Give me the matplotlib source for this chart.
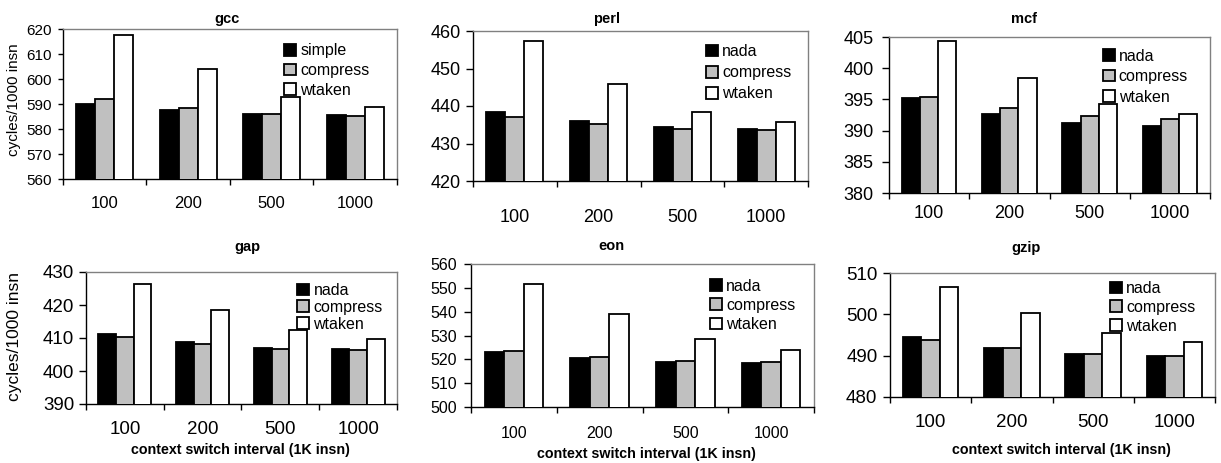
import numpy as np
import matplotlib
matplotlib.use("Agg")
import matplotlib.pyplot as plt
from matplotlib.ticker import FixedLocator, NullFormatter

plt.rcParams['font.family'] = ['Liberation Sans', 'DejaVu Sans']

intervals = ['100', '200', '500', '1000']

gcc_simple = [590.1, 587.7, 586.0, 585.6]
gcc_compress = [592.0, 588.4, 586.0, 585.3]
gcc_wtaken = [617.6, 603.9, 592.8, 588.7]

perl_nada = [438.4, 436.0, 434.5, 433.9]
perl_compress = [437.2, 435.1, 434.0, 433.6]
perl_wtaken = [457.4, 446.0, 438.4, 435.7]

mcf_nada = [395.2, 392.7, 391.2, 390.7]
mcf_compress = [395.4, 393.6, 392.3, 391.8]
mcf_wtaken = [404.4, 398.4, 394.2, 392.6]

gap_nada = [411.3, 408.7, 407.1, 406.8]
gap_compress = [410.2, 408.1, 406.8, 406.5]
gap_wtaken = [426.5, 418.5, 412.3, 409.7]

eon_nada = [523.0, 520.6, 519.0, 518.6]
eon_compress = [523.3, 520.9, 519.3, 518.9]
eon_wtaken = [551.7, 539.0, 528.6, 523.8]

gzip_nada = [494.4, 491.9, 490.3, 489.8]
gzip_compress = [493.8, 491.8, 490.4, 489.9]
gzip_wtaken = [506.7, 500.4, 495.4, 493.2]

W, H = 1221, 463
fig = plt.figure(figsize=(W / 100, H / 100), dpi=100)


def px_rect(x0, y_bottom, w, h):
    return [x0 / W, 1 - y_bottom / H, w / W, h / H]


panels = [
    dict(name='gcc', rect=px_rect(63, 179, 334, 150),
         data=[gcc_simple, gcc_compress, gcc_wtaken],
         labels=['simple', 'compress', 'wtaken'],
         ylim=(560, 620), step=10, fs=11, xfs=12, xpad=12, ytl=3.6, ypad=4.5,
         tx=0.49, tpad=4, leg=(0.663, 0.905), ls=0.3),
    dict(name='perl', rect=px_rect(473, 181, 335, 150),
         data=[perl_nada, perl_compress, perl_wtaken],
         labels=['nada', 'compress', 'wtaken'],
         ylim=(420, 460), step=10, fs=13, xfs=13, xpad=20, ytl=5, ypad=3.5,
         tx=0.40, tpad=6, leg=(0.696, 0.912), ls=0.38),
    dict(name='mcf', rect=px_rect(889, 193, 321, 156),
         data=[mcf_nada, mcf_compress, mcf_wtaken],
         labels=['nada', 'compress', 'wtaken'],
         ylim=(380, 405), step=5, fs=13, xfs=13, xpad=9, ytl=5, ypad=6,
         tx=0.42, tpad=10, leg=(0.666, 0.926), ls=0.35),
    dict(name='gap', rect=px_rect(86, 404, 311, 132),
         data=[gap_nada, gap_compress, gap_wtaken],
         labels=['nada', 'compress', 'wtaken'],
         ylim=(390, 430), step=10, fs=13.5, xfs=13.5, xpad=12, ytl=5, ypad=3.5,
         tx=0.52, tpad=15, leg=(0.68, 0.917), ls=0.12),
    dict(name='eon', rect=px_rect(471, 407, 343, 143),
         data=[eon_nada, eon_compress, eon_wtaken],
         labels=['nada', 'compress', 'wtaken'],
         ylim=(500, 560), step=10, fs=11.5, xfs=11.5, xpad=14, ytl=5, ypad=5,
         tx=0.41, tpad=10, leg=(0.697, 0.897), ls=0.26),
    dict(name='gzip', rect=px_rect(890, 397, 325, 124),
         data=[gzip_nada, gzip_compress, gzip_wtaken],
         labels=['nada', 'compress', 'wtaken'],
         ylim=(480, 510), step=10, fs=13.5, xfs=13.5, xpad=12, ytl=5, ypad=4,
         tx=0.42, tpad=15, leg=(0.677, 0.935), ls=0.24),
]

colors = ['black', '#c0c0c0', 'white']
x = np.arange(len(intervals))
bw = 0.227

axes = []
for p in panels:
    ax = fig.add_axes(p['rect'])
    axes.append(ax)
    for i, (vals, lab) in enumerate(zip(p['data'], p['labels'])):
        ax.bar(x + (i - 1) * bw, vals, bw, color=colors[i], edgecolor='black',
               linewidth=1.3, label=lab, zorder=3)
    ax.set_xlim(-0.5, len(intervals) - 0.5)
    ax.set_ylim(*p['ylim'])
    ax.set_yticks(np.arange(p['ylim'][0], p['ylim'][1] + 0.1, p['step']))
    ax.set_xticks(x)
    ax.set_xticklabels(intervals)
    ax.xaxis.set_minor_locator(FixedLocator(np.arange(-0.5, len(intervals), 1.0)))
    ax.xaxis.set_minor_formatter(NullFormatter())
    ax.tick_params(axis='x', which='major', length=0, pad=p['xpad'], labelsize=p['xfs'])
    ax.tick_params(axis='x', which='minor', length=4.5, width=1, direction='out')
    ax.tick_params(axis='y', length=p['ytl'], width=1, direction='out',
                   labelsize=p['fs'], pad=p['ypad'])
    for s in ['top', 'right']:
        ax.spines[s].set_color('#808080')
        ax.spines[s].set_linewidth(1.0)
    for s in ['left', 'bottom']:
        ax.spines[s].set_color('black')
        ax.spines[s].set_linewidth(1.0)
    ax.set_title(p['name'], fontsize=10.5, fontweight='bold', x=p['tx'], pad=p['tpad'])
    ax.legend(loc='upper left', bbox_to_anchor=p['leg'], frameon=False,
              fontsize=11.5, borderpad=0, borderaxespad=0,
              handlelength=0.75, handleheight=0.75, handletextpad=0.25,
              labelspacing=p['ls'])

# y labels (left column only)
axes[0].set_ylabel('cycles/1000 insn', fontsize=11)
axes[0].yaxis.set_label_coords(-0.126, 0.527)
axes[3].set_ylabel('cycles/1000 insn', fontsize=12.5)
axes[3].yaxis.set_label_coords(-0.206, 0.51)

# x labels (bottom row only)
xl_pos = [(3, 240, 450, 10.3), (4, 646, 454, 10.3), (5, 1061, 450, 10.3)]
for k, cx, cy, fs in xl_pos:
    ax = axes[k]
    ax.set_xlabel('context switch interval (1K insn)', fontsize=fs, fontweight='bold')
    x0, yb, w, h = panels[k]['rect']
    ax.xaxis.set_label_coords((cx / W - x0) / w, (1 - cy / H - yb) / h)
    ax.xaxis.label.set_va('center')

fig.savefig('out.png', dpi=100)
